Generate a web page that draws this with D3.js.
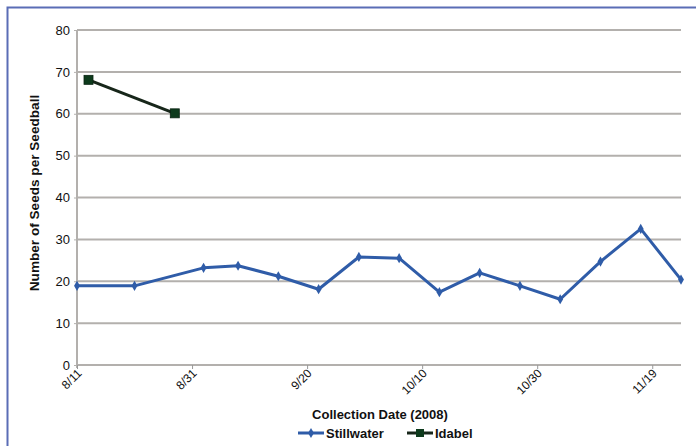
<!DOCTYPE html>
<html>
<head>
<meta charset="utf-8">
<script src="https://cdn.jsdelivr.net/npm/d3@7"></script>
<style>
  html, body { margin: 0; padding: 0; background: #fff; }
  svg { display: block; font-family: "Liberation Sans", Arial, sans-serif; }
</style>
</head>
<body>
<svg id="chart" width="696" height="446"></svg>
<script>
// Seeds per seedball by collection date, 2008
const stillwaterDates = ["2008-08-11","2008-08-21","2008-09-02","2008-09-08","2008-09-15","2008-09-22","2008-09-29","2008-10-06","2008-10-13","2008-10-20","2008-10-27","2008-11-03","2008-11-10","2008-11-17","2008-11-24"];
const stillwaterValues = [18.9, 18.9, 23.2, 23.7, 21.2, 18.1, 25.8, 25.5, 17.4, 22.0, 18.9, 15.7, 24.7, 32.5, 20.4];
const idabelDates = ["2008-08-13","2008-08-28"];
const idabelValues = [68.1, 60.1];
const xTickDates = ["2008-08-11","2008-08-31","2008-09-20","2008-10-10","2008-10-30","2008-11-19"];
const xTickLabels = ["8/11","8/31","9/20","10/10","10/30","11/19"];
const yTicks = [0, 10, 20, 30, 40, 50, 60, 70, 80];

const parse = d3.timeParse("%Y-%m-%d");
const svg = d3.select("#chart");

const plotLeft = 77, plotRight = 681, plotTop = 30, plotBottom = 365;

const x = d3.scaleTime()
  .domain([parse("2008-08-11"), parse("2008-11-24")])
  .range([plotLeft, plotRight]);
const y = d3.scaleLinear().domain([0, 80]).range([plotBottom, plotTop]);

// frame
svg.append("path")
  .attr("d", `M7.5,446 V7.5 H696`)
  .attr("fill", "none").attr("stroke", "#5a6db6").attr("stroke-width", 2);

// horizontal gridlines
svg.append("g").selectAll("line")
  .data(yTicks.filter(v => v > 0))
  .join("line")
  .attr("x1", plotLeft).attr("x2", plotRight)
  .attr("y1", d => y(d)).attr("y2", d => y(d))
  .attr("stroke", "#b3b0ad").attr("stroke-width", 2);

// y axis
const yAxis = svg.append("g")
  .attr("transform", `translate(${plotLeft},0)`)
  .call(d3.axisLeft(y).tickValues(yTicks).tickSize(3).tickPadding(4));
yAxis.select(".domain").attr("stroke", "#b3b0ad").attr("stroke-width", 2)
  .attr("d", `M0,${plotTop}V${plotBottom + 3}`);
yAxis.selectAll(".tick line").attr("stroke", "#b3b0ad");
yAxis.selectAll("text").attr("font-size", 13).attr("fill", "#111");

// x axis
const xAxis = svg.append("g")
  .attr("transform", `translate(0,${plotBottom})`)
  .call(d3.axisBottom(x)
    .tickValues(xTickDates.map(parse))
    .tickFormat((d, i) => xTickLabels[i])
    .tickSize(4));
xAxis.select(".domain").attr("stroke", "#b3b0ad").attr("stroke-width", 2)
  .attr("d", `M${plotLeft - 1},0H${plotRight}`);
xAxis.selectAll(".tick line").attr("stroke", "#999");
xAxis.selectAll("text")
  .attr("font-size", 12).attr("fill", "#111")
  .attr("text-anchor", "end")
  .attr("dy", null).attr("y", null)
  .attr("transform", "translate(5,9) rotate(-45)");

// axis titles
svg.append("text")
  .attr("transform", `translate(39,193) rotate(-90)`)
  .attr("text-anchor", "middle")
  .attr("font-size", 13.6).attr("font-weight", "bold").attr("fill", "#111")
  .text("Number of Seeds per Seedball");

svg.append("text")
  .attr("x", 380).attr("y", 419)
  .attr("text-anchor", "middle")
  .attr("font-size", 13).attr("font-weight", "bold").attr("fill", "#111")
  .text("Collection Date (2008)");

const line = d3.line().x(d => x(d.date)).y(d => y(d.value));

const stillwater = stillwaterDates.map((d, i) => ({ date: parse(d), value: stillwaterValues[i] }));
const idabel = idabelDates.map((d, i) => ({ date: parse(d), value: idabelValues[i] }));

const blue = "#2f5ca8";
const dark = "#17261a";
const green = "#0d3a1c";

svg.append("path").datum(stillwater)
  .attr("d", line).attr("fill", "none")
  .attr("stroke", blue).attr("stroke-width", 3).attr("stroke-linejoin", "round");
const diamond = d3.symbol().type(d3.symbolDiamond).size(30);
svg.append("g").selectAll("path").data(stillwater).join("path")
  .attr("d", diamond)
  .attr("transform", d => `translate(${x(d.date)},${y(d.value)})`)
  .attr("fill", blue);

svg.append("path").datum(idabel)
  .attr("d", line).attr("fill", "none")
  .attr("stroke", dark).attr("stroke-width", 3);
svg.append("g").selectAll("rect").data(idabel).join("rect")
  .attr("x", d => x(d.date) - 4.5).attr("y", d => y(d.value) - 4.5)
  .attr("width", 9).attr("height", 9)
  .attr("fill", green).attr("stroke", "#0a2412").attr("stroke-width", 0.8);

// legend
const legend = svg.append("g");
const items = [
  { name: "Stillwater", color: blue, x0: 298, marker: "diamond" },
  { name: "Idabel", color: dark, x0: 407, marker: "square" }
];
items.forEach(it => {
  legend.append("line")
    .attr("x1", it.x0).attr("x2", it.x0 + 26)
    .attr("y1", 433).attr("y2", 433)
    .attr("stroke", it.color).attr("stroke-width", 3);
  if (it.marker === "diamond") {
    legend.append("path").attr("d", diamond)
      .attr("transform", `translate(${it.x0 + 13},433)`).attr("fill", it.color);
  } else {
    legend.append("rect").attr("x", it.x0 + 9).attr("y", 429)
      .attr("width", 8).attr("height", 8).attr("fill", green);
  }
  legend.append("text")
    .attr("x", it.x0 + 28).attr("y", 438)
    .attr("font-size", 13).attr("font-weight", "bold").attr("fill", "#111")
    .text(it.name);
});
</script>
</body>
</html>
